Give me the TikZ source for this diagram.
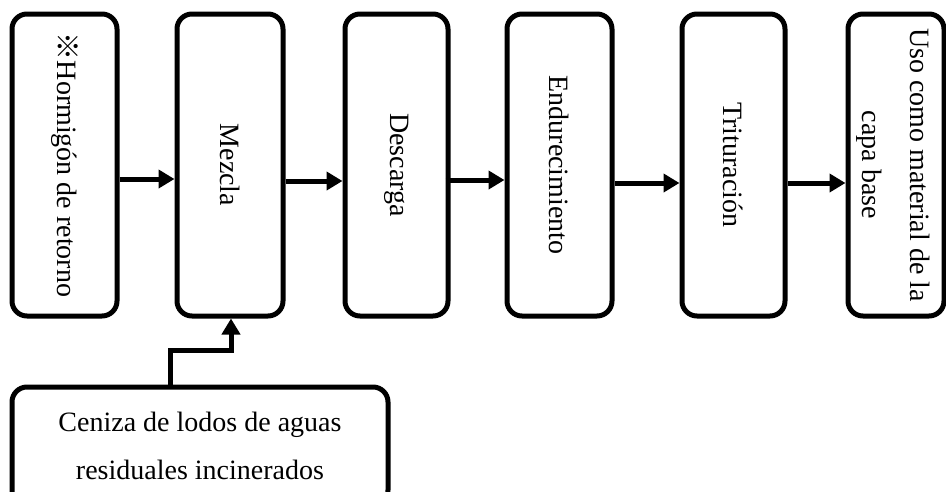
\documentclass[tikz,border=0pt]{standalone}
\usepackage{fontspec}
\setmainfont{Liberation Serif}
\newfontfamily\cjk{Noto Sans CJK JP}
\usetikzlibrary{arrows.meta}
\begin{document}
\begin{tikzpicture}[x=1pt,y=-1pt,
  stepbox/.style={draw,line width=5pt,rounded corners=15pt,inner sep=0pt,
    minimum height=302pt,font=\fontsize{28}{48}\selectfont},
  arr/.style={line width=5pt,-{Triangle[length=16pt,width=18pt]}},
]
\useasboundingbox (0,0) rectangle (946,491);
\clip (0,0) rectangle (946,491);
\node[stepbox,minimum width=105pt] (b1) at (64.5,165) {\rotatebox{-90}{{\cjk ※}Hormigón de retorno}};
\node[stepbox,minimum width=106pt] (b2) at (230,165) {\rotatebox{-90}{Mezcla}};
\node[stepbox,minimum width=103pt] (b3) at (396.5,165) {\rotatebox{-90}{Descarga}};
\node[stepbox,minimum width=105pt] (b4) at (559.5,165) {\rotatebox{-90}{Endurecimiento}};
\node[stepbox,minimum width=103pt] (b5) at (733.5,165) {\rotatebox{-90}{Trituración}};
\node[stepbox,minimum width=96pt] (b6) at (896,165) {\rotatebox{-90}{\begin{tabular}{@{}c@{}}Uso como material de la\\capa base\end{tabular}}};
\node[stepbox,minimum width=376pt,minimum height=118pt,align=center] (b7) at (200,446) {Ceniza de lodos de aguas\\residuales incinerados};
\draw[arr] ([yshift=-14pt]b1.east) -- ([yshift=-14pt]b2.west);
\draw[arr] ([yshift=-16pt]b2.east) -- ([yshift=-16pt]b3.west);
\draw[arr] ([xshift=-5pt,yshift=-15pt]b3.east) -- ([yshift=-15pt]b4.west);
\draw[arr] ([yshift=-18pt]b4.east) -- ([yshift=-18pt]b5.west);
\draw[arr] ([yshift=-18pt]b5.east) -- ([yshift=-18pt]b6.west);
\coordinate (k) at (231,350);
\draw[arr] ([xshift=-30pt]b7.north) |- (k) -- (k |- b2.south);
\end{tikzpicture}
\end{document}
